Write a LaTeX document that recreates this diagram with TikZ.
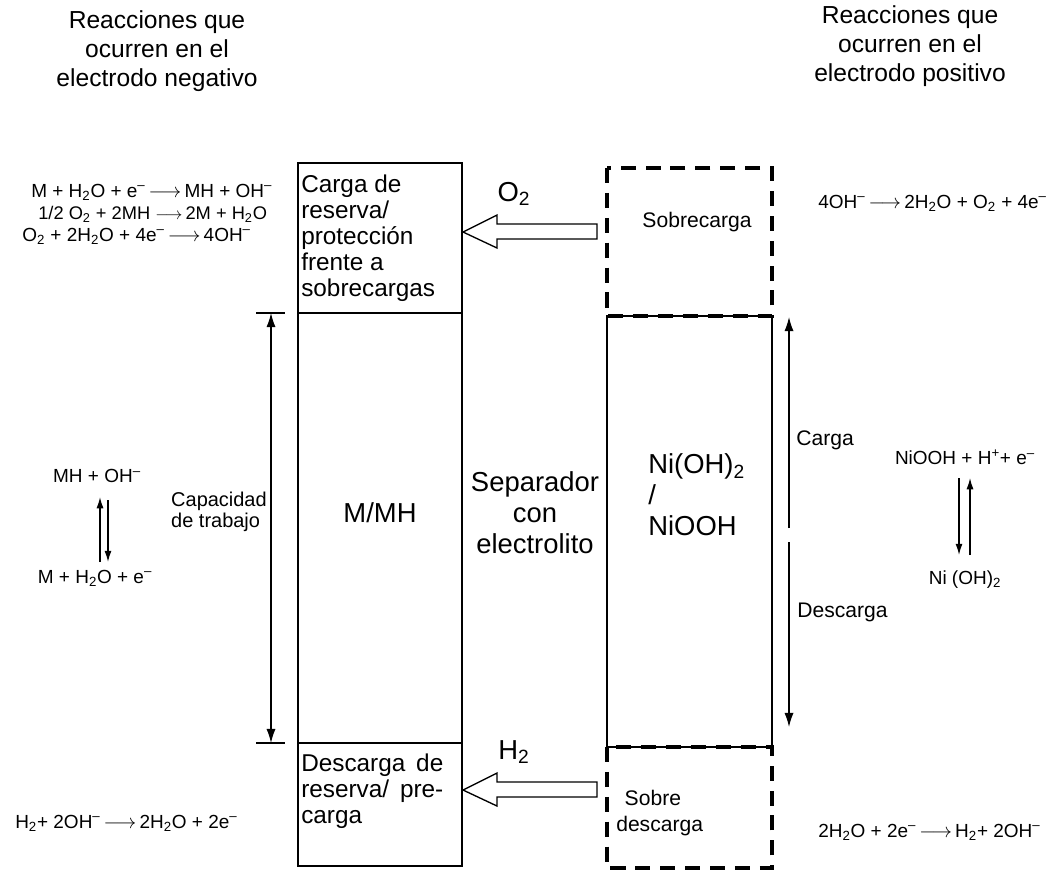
\documentclass[tikz,border=0pt]{standalone}
\usepackage{fontspec}
\setmainfont{Liberation Sans}
\usetikzlibrary{arrows.meta}
\newcommand{\chsub}[1]{\textsubscript{#1}}
\newcommand{\chsup}[1]{\textsuperscript{#1}}
\newcommand{\yields}{$\longrightarrow$}

\begin{document}
\begin{tikzpicture} [x = 0.025cm, y = -0.025cm,
  box/.style = {black, line width=0.95pt},
  dashbox/.style = {black, line width=2.4pt, dash pattern=on 10.7pt off 7pt},
  hdr/.style = {black, align=center, font=\fontsize{17.5}{20.5}\selectfont},
  boxtxt/.style = {black, align=left, inner sep=0pt, font=\fontsize{17.3}{18.4}\selectfont},
  big/.style = {black, align=center, inner sep=0pt, font=\fontsize{19.5}{22}\selectfont},
  small/.style = {black, align=left, inner sep=0pt, font=\fontsize{15}{18.5}\selectfont},
  eqn/.style = {black, inner sep=0pt, font=\fontsize{13.5}{15}\selectfont},
  hollow/.style = {black, line width=0.95pt, fill=white},
  dim/.style = {black, line width=0.95pt, -{Latex[length=10pt, width=6.5pt]}},
  eqarr/.style = {black, line width=0.95pt, -{Latex[length=8pt, width=5pt]}}]
\useasboundingbox (0, 0) rectangle (1056, 871);

% titles
\node[hdr] (negtitle) at (157, 51){Reacciones que\\ocurren en el\\electrodo negativo};
\node[hdr] (postitle) at (910, 46){Reacciones que\\ocurren en el\\electrodo positivo};

% negative electrode column
\draw[box] (298, 163) rectangle (462, 313);
\draw[box] (298, 313) rectangle (462, 743);
\draw[box] (298, 743) rectangle (462, 866);
\node[boxtxt, anchor=west] (reserve) at (301, 238){Carga de\\reserva/\\protección\\frente a\\sobrecargas};
\node[big] (mmh) at (380, 513){M/MH};
\node[boxtxt, anchor=west, text width=3.55cm] (precharge) at (301, 791){Descarga\hfill de\\reserva/\hfill pre-\\carga};

% separator
\node[big] (sep) at (535, 513){Separador\\con\\electrolito};

% positive electrode column
\draw[dashbox] (607, 168) rectangle (772, 316);
\draw[box] (607, 316) rectangle (772, 747);
\draw[dashbox] (607, 747) rectangle (772, 868);
\node[small, anchor=center] (overchg) at (697, 222){Sobrecarga};
\node[big, anchor=west, align=left] (nickel) at (648, 495){Ni(OH)\chsub{2}\\/\\NiOOH};
\node[small, anchor=west] (overdis) at (616, 813){\hspace*{6pt}Sobre\\descarga};

% gas arrows
\coordinate (otip) at (463, 232);
\coordinate (htip) at (463, 790);
\draw[hollow] (otip) -- ++(34, -17) -- ++(0, 9) -- ++(100, 0) -- ++(0, 15) -- ++(-100, 0) -- ++(0, 9) -- cycle;
\draw[hollow] (htip) -- ++(34, -17) -- ++(0, 9) -- ++(100, 0) -- ++(0, 15) -- ++(-100, 0) -- ++(0, 9) -- cycle;
\node[big] (otwo) at (514, 194){O\chsub{2}};
\node[big] (htwo) at (514, 752){H\chsub{2}};

% working capacity
\coordinate (capt) at (271, 313);
\coordinate (capb) at (271, 743);
\draw[box] (256, 313) -- (285, 313);
\draw[box] (256, 743) -- (285, 743);
\draw[dim, {Latex[length=10pt, width=6.5pt]}-{Latex[length=10pt, width=6.5pt]}] (capt) -- (capb);
\node[black, align=left, anchor=east, inner sep=0pt, font=\fontsize{14.2}{14.5}\selectfont] (capac) at (267, 512){Capacidad\\de trabajo};

% charge / discharge
\coordinate (chgtop) at (789, 317);
\coordinate (chgbot) at (789, 528);
\coordinate (distop) at (789, 542);
\coordinate (disbot) at (789, 727);
\draw[dim] (chgbot) -- (chgtop);
\draw[dim] (distop) -- (disbot);
\node[small, anchor=west] (chg) at (796, 440){Carga};
\node[small, anchor=west] (dis) at (797, 612){Descarga};

% reactions, negative side
\node[eqn, anchor=west] (neg1) at (31, 192){M + H\chsub{2}O + e\chsup{--}\,\yields\,MH + OH\chsup{--}};
\node[eqn, anchor=west, font=\fontsize{13}{15}\selectfont] (neg2) at (38, 214){1/2 O\chsub{2} + 2MH \yields\,2M + H\chsub{2}O};
\node[eqn, anchor=west] (neg3) at (22, 236){O\chsub{2} + 2H\chsub{2}O + 4e\chsup{--}\,\yields\,4OH\chsup{--}};
\node[eqn] (negmh) at (97, 476){MH + OH\chsup{--}};
\node[eqn] (negm) at (95, 578){M + H\chsub{2}O + e\chsup{--}};
\coordinate (nup1) at (100, 562);
\coordinate (nup2) at (100, 497);
\coordinate (ndn1) at (108, 500);
\coordinate (ndn2) at (108, 562);
\draw[eqarr] (nup1) -- (nup2);
\draw[eqarr] (ndn1) -- (ndn2);
\node[eqn, anchor=west] (neghyd) at (15, 823){H\chsub{2}+ 2OH\chsup{--}\,\yields\,2H\chsub{2}O + 2e\chsup{--}};

% reactions, positive side
\node[eqn, anchor=west] (pos1) at (818, 203){4OH\chsup{--}\,\yields\,2H\chsub{2}O + O\chsub{2} + 4e\chsup{--}};
\node[eqn] (posnio) at (965, 457){NiOOH + H\chsup{+}+ e\chsup{--}};
\node[eqn] (posni) at (965, 580){Ni (OH)\chsub{2}};
\coordinate (pdn1) at (959, 478);
\coordinate (pdn2) at (959, 555);
\coordinate (pup1) at (970, 555);
\coordinate (pup2) at (970, 478);
\draw[eqarr] (pdn1) -- (pdn2);
\draw[eqarr] (pup1) -- (pup2);
\node[eqn, anchor=west] (poshyd) at (818, 832){2H\chsub{2}O + 2e\chsup{--}\,\yields\,H\chsub{2}+ 2OH\chsup{--}};
\end{tikzpicture}
\end{document}
